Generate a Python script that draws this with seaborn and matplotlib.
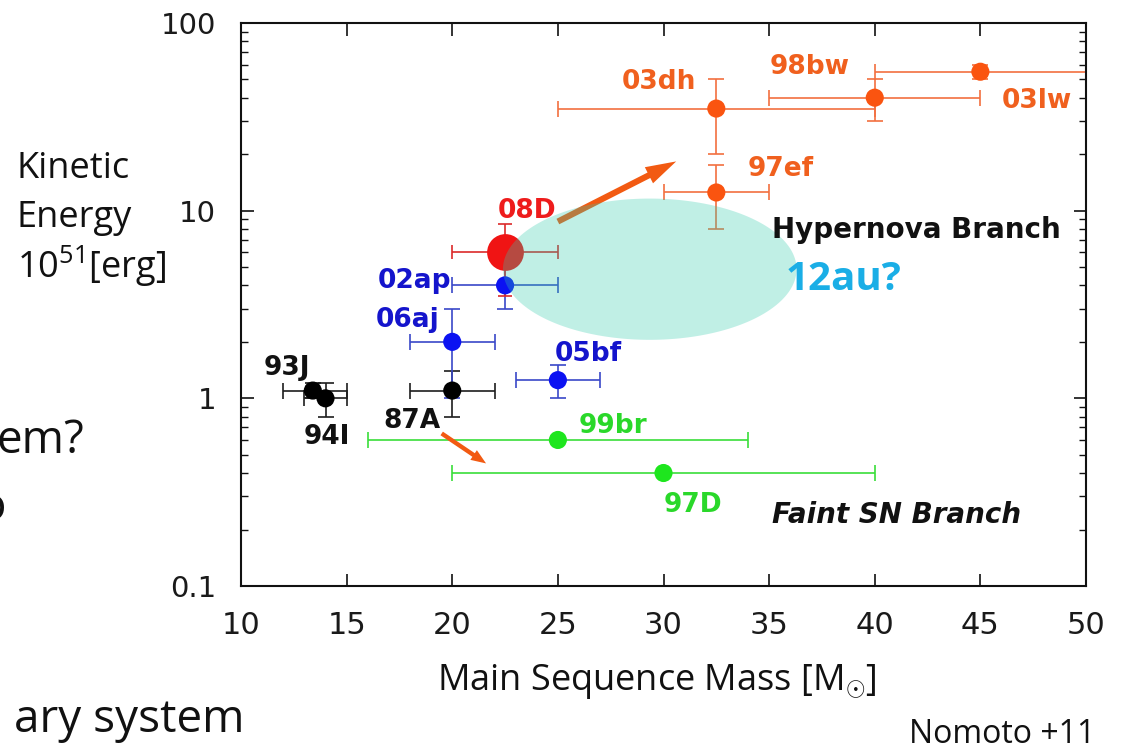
import numpy as np
import pandas as pd
import matplotlib
matplotlib.use("Agg")
import matplotlib.pyplot as plt
from matplotlib.ticker import LogLocator, NullFormatter, NullLocator
import seaborn as sns

# ---------------- data ----------------
sn_names = ["93J", "94I", "87A", "06aj", "02ap", "08D", "05bf", "99br", "97D",
            "03dh", "97ef", "98bw", "03lw"]
sn_group = ["black", "black", "black", "blue", "blue", "red", "blue", "green", "green",
            "orange", "orange", "orange", "orange"]
mass = [13.4, 14.0, 20.0, 20.0, 22.5, 22.5, 25.0, 25.0, 30.0, 32.5, 32.5, 40.0, 45.0]
mass_low = [12, 13, 18, 18, 20, 20, 23, 16, 20, 25, 30, 35, 40]
mass_high = [15, 15, 22, 22, 25, 25, 27, 34, 40, 40, 35, 45, 60]
energy = [1.1, 1.0, 1.1, 2.0, 4.0, 6.0, 1.25, 0.6, 0.4, 35, 12.5, 40, 55]
energy_low = [1.0, 0.8, 0.8, 1.0, 3.0, 3.5, 1.0, 0.6, 0.4, 20, 8.0, 30, 50]
energy_high = [1.2, 1.2, 1.4, 3.0, 5.0, 8.5, 1.5, 0.6, 0.4, 50, 17.5, 50, 60]

x_ticks = [10, 15, 20, 25, 30, 35, 40, 45, 50]
y_ticks = [0.1, 1, 10, 100]
y_tick_labels = ["0.1", "1", "10", "100"]

# arrows (tail -> head), data coordinates
arrow_tail = [(25.0, 8.75), (19.5, 0.65)]
arrow_head = [(30.6, 18.3), (21.6, 0.45)]

# hypernova-branch ellipse extents (mass range, energy range)
ellipse_mass = (22.4, 36.3)
ellipse_energy = (2.05, 11.6)

# ---------------- styling ----------------
label_dx = [-19, 1, -29, -32, -65, 16, 22, 40, 21, -41, 46, -47, 41]
label_dy = [18, -26, -20, 18, 5, 32, 21, 12, -21, 21, 19, 24, -19]

marker_colors = {"black": "#000000", "blue": "#0b12f2", "red": "#f01414",
                 "green": "#1ee61e", "orange": "#fa5410"}
line_colors = {"black": "#1e1e1e", "blue": "#3a48c8", "red": "#dc2a2a",
               "green": "#3ade3a", "orange": "#f27040"}
label_colors = {"black": "#111111", "blue": "#1414cc", "red": "#ee1c1c",
                "green": "#2ad82a", "orange": "#f0601e"}

sns.set_theme(style="ticks")
plt.rcParams["font.family"] = ["DejaVu Sans"]
plt.rcParams["mathtext.fontset"] = "custom"
plt.rcParams["mathtext.rm"] = "Open Sans"
plt.rcParams["mathtext.it"] = "Open Sans:italic"
plt.rcParams["mathtext.bf"] = "Open Sans:bold"

W, H = 1122, 747
fig = plt.figure(figsize=(W / 100, H / 100), dpi=100)
fig.patch.set_facecolor("white")
ax = fig.add_axes([241 / W, 1 - 586 / H, 845 / W, 563 / H])
ax.set_facecolor("white")
ax.set_yscale("log")
ax.set_xlim(10, 50)
ax.set_ylim(0.1, 100)

df = pd.DataFrame({"sn": sn_names, "group": sn_group, "mass": mass,
                   "mass_low": mass_low, "mass_high": mass_high,
                   "energy": energy, "energy_low": energy_low,
                   "energy_high": energy_high})

# error bars
for _, r in df.iterrows():
    xerr = [[r.mass - r.mass_low], [r.mass_high - r.mass]]
    yerr = None
    if r.energy_high > r.energy_low:
        yerr = [[r.energy - r.energy_low], [r.energy_high - r.energy]]
    ax.errorbar(r.mass, r.energy, xerr=xerr, yerr=yerr, fmt="none",
                ecolor=line_colors[r.group], elinewidth=1.2,
                capsize=5 if r.sn == "08D" else 6, capthick=1.2, zorder=2)

# markers
small = df[df.sn != "08D"]
big = df[df.sn == "08D"]
sns.scatterplot(data=small, x="mass", y="energy", hue="group", palette=marker_colors,
                s=170, linewidth=0, legend=False, ax=ax, zorder=4)
sns.scatterplot(data=big, x="mass", y="energy", hue="group", palette=marker_colors,
                s=700, linewidth=0, legend=False, ax=ax, zorder=4)
ax.set_xlabel("")
ax.set_ylabel("")

# arrows
arrow_styles = ["simple,head_length=1.1,head_width=0.65,tail_width=0.22",
                "simple,head_length=0.9,head_width=0.7,tail_width=0.26"]
arrow_scales = [20, 12]
for tail, head, st, ms in zip(arrow_tail, arrow_head, arrow_styles, arrow_scales):
    ax.annotate("", xy=head, xytext=tail,
                arrowprops=dict(arrowstyle=st, mutation_scale=ms, color="#f25a12",
                                lw=0, shrinkA=0, shrinkB=0), zorder=5)

# hypernova ellipse (in mass / log-energy space)
t = np.linspace(0, 2 * np.pi, 300)
cx = np.mean(ellipse_mass)
a = (ellipse_mass[1] - ellipse_mass[0]) / 2
lc = np.mean(np.log10(ellipse_energy))
b = (np.log10(ellipse_energy[1]) - np.log10(ellipse_energy[0])) / 2
ax.fill(cx + a * np.cos(t), 10 ** (lc + b * np.sin(t)), color="#30caac",
        alpha=0.3, lw=0, zorder=6)

# labels
for (_, r), dx, dy in zip(df.iterrows(), label_dx, label_dy):
    ax.annotate(r.sn, xy=(r.mass, r.energy), xytext=(dx, dy - 7),
                textcoords="offset points", ha="center", va="baseline",
                fontsize=19, fontweight="bold", color=label_colors[r.group], zorder=8)

ax.text(0.628, 0.6185, "Hypernova Branch", transform=ax.transAxes, ha="left",
        va="baseline", fontsize=20, fontweight="bold", color="#111111", zorder=8)
ax.text(0.645, 0.526, "12au?", transform=ax.transAxes, ha="left", va="baseline",
        fontsize=29, fontweight="bold", color="#1aaee6",
        family=["Open Sans", "DejaVu Sans"], zorder=8)
ax.text(0.628, 0.112, "Faint SN Branch", transform=ax.transAxes, ha="left",
        va="baseline", fontsize=20, fontweight="bold", fontstyle="italic",
        color="#111111", zorder=8)

# axes / ticks
ax.set_xticks(x_ticks)
ax.set_xticklabels([str(v) for v in x_ticks], fontsize=22, color="#1a1a1a")
ax.xaxis.set_minor_locator(NullLocator())
ax.set_yticks(y_ticks)
ax.set_yticklabels(y_tick_labels, fontsize=21, color="#1a1a1a")
ax.yaxis.set_minor_locator(LogLocator(base=10, subs=np.arange(2, 10)))
ax.yaxis.set_minor_formatter(NullFormatter())
ax.tick_params(axis="both", which="both", direction="in", top=True, right=True,
               color="#111111")
ax.tick_params(axis="both", which="major", length=9, width=1.2, pad=18)
ax.tick_params(axis="both", which="minor", length=5, width=1.0)
for sp in ax.spines.values():
    sp.set_visible(True)
    sp.set_color("#111111")
    sp.set_linewidth(1.5)

# slide text around the chart
slide_font = ["Open Sans", "DejaVu Sans"]
def fx(px):
    return px / W
def fy(py):
    return 1 - py / H

fig.text(fx(17), fy(178), "Kinetic", family=slide_font, fontsize=26, va="baseline", color="#111")
fig.text(fx(17), fy(227), "Energy", family=slide_font, fontsize=26, va="baseline", color="#111")
fig.text(fx(17), fy(278), "10$^{51}$[erg]", family=slide_font, fontsize=26, va="baseline", color="#111")
fig.text(fx(84), fy(453), "em?", family=slide_font, fontsize=33, ha="right", va="baseline", color="#111")
fig.text(fx(6), fy(520), "o", family=slide_font, fontsize=33, ha="right", va="baseline", color="#111")
fig.text(fx(244), fy(732), "ary system", family=slide_font, fontsize=33, ha="right", va="baseline", color="#111")
fig.text(fx(437), fy(690), r"Main Sequence Mass [M$_{\odot}$]", family=slide_font, fontsize=26,
         ha="left", va="baseline", color="#111")
fig.text(fx(909), fy(743), "Nomoto +11", family=slide_font, fontsize=23, ha="left",
         va="baseline", color="#111")

fig.savefig("out.png", dpi=100, facecolor="white")
